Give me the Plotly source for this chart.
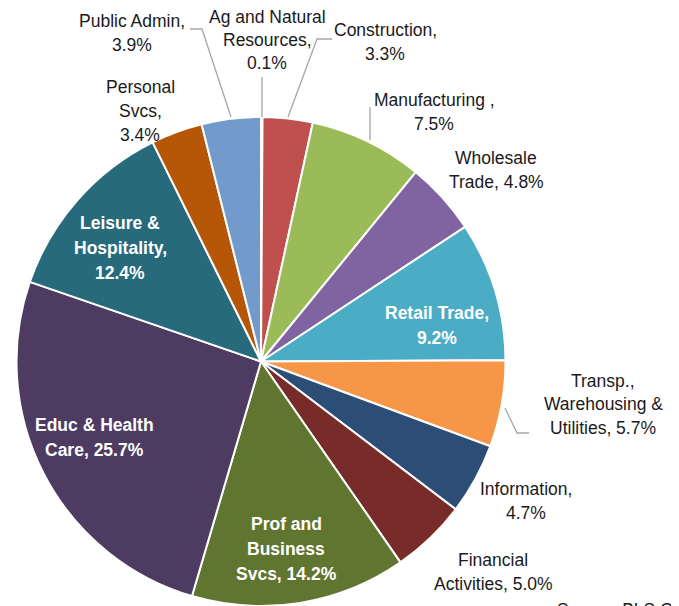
import plotly.graph_objects as go

# the page body keeps its default 8px margin, so the figure is 8px smaller
# and every pixel position below is given in window pixels
OFF = 8
W, H = 679 - OFF, 606 - OFF

# Share of employment by sector, clockwise from 12 o'clock
sectors = ["Ag and Natural Resources", "Construction", "Manufacturing", "Wholesale Trade",
           "Retail Trade", "Transp., Warehousing & Utilities", "Information",
           "Financial Activities", "Prof and Business Svcs", "Educ & Health Care",
           "Leisure & Hospitality", "Personal Svcs", "Public Admin"]
shares = [0.1, 3.3, 7.5, 4.8, 9.2, 5.7, 4.7, 5.0, 14.2, 25.7, 12.4, 3.4, 3.9]

colors = ["#4F81BD", "#C0504D", "#9BBB59", "#8064A2", "#4BACC6", "#F79646", "#2C4D75",
          "#772C2A", "#5F7530", "#4D3B62", "#276A7C", "#B65708", "#729ACA"]

# label lines as shown on the chart, "{}" gets the percentage
label_lines = [
    ["Ag and Natural", "Resources,", "{}"],
    ["Construction,", "{}"],
    ["Manufacturing ,", "{}"],
    ["Wholesale", "Trade, {}"],
    ["Retail Trade,", "{}"],
    ["Transp.,", "Warehousing &", "Utilities, {}"],
    ["Information,", "{}"],
    ["Financial", "Activities, {}"],
    ["Prof and", "Business", "Svcs, {}"],
    ["Educ & Health", "Care, {}"],
    ["Leisure &", "Hospitality,", "{}"],
    ["Personal", "Svcs,", "{}"],
    ["Public Admin,", "{}"],
]
inside = ["Retail Trade", "Prof and Business Svcs", "Educ & Health Care", "Leisure & Hospitality"]

# label block centres in window pixels
label_pos = [(267, 40), (385, 42), (434, 112), (496, 170), (437, 325), (603, 404),
             (526, 501), (493, 572), (286, 549), (94, 437), (120, 248), (140, 111), (132, 33)]

# leader lines in window pixels
leaders = [
    [(262, 77), (262, 117)],
    [(332, 39), (317, 39), (288, 117)],
    [(370, 107), (370, 140)],
    [(505, 408), (517, 433), (529, 433)],
    [(190, 29), (202, 29), (231, 117)],
]

FONT = "Liberation Sans Narrow, Arial Narrow, Liberation Sans, Arial, sans-serif"


def px(x):
    return (x - OFF) / W


def py(y):
    return 1 - (y - OFF) / H


fig = go.Figure(go.Pie(
    labels=sectors, values=shares, sort=False, direction="clockwise", rotation=0,
    marker=dict(colors=colors, line=dict(color="white", width=2)),
    textinfo="none", showlegend=False,
    domain=dict(x=[px(15), px(507)], y=[0, py(117)]),
))

for name, val, lines, (cx, cy) in zip(sectors, shares, label_lines, label_pos):
    is_in = name in inside
    step = 25 if is_in else 23.5
    y0 = cy - step * (len(lines) - 1) / 2
    for i, ln in enumerate(lines):
        txt = ln.format(f"{val:.1f}%")
        if is_in:
            txt = "<b>" + txt + "</b>"
        fig.add_annotation(x=px(cx), y=py(y0 + i * step), xref="paper", yref="paper",
                           text=txt, showarrow=False, xanchor="center", yanchor="middle",
                           font=dict(family=FONT, size=17.5, color="white" if is_in else "#1a1a1a"))

for pts in leaders:
    path = "M " + " L ".join(f"{px(x)},{py(y)}" for x, y in pts)
    fig.add_shape(type="path", path=path, xref="paper", yref="paper",
                  line=dict(color="#A6A6A6", width=1.3))

fig.add_annotation(x=px(555), y=py(598), xref="paper", yref="paper", text="Source: BLS QCEW",
                   showarrow=False, xanchor="left", yanchor="top",
                   font=dict(family=FONT, size=17.5, color="#1a1a1a"))

fig.update_layout(width=W, height=H, margin=dict(l=0, r=0, t=0, b=0),
                  paper_bgcolor="white", plot_bgcolor="white")

fig.write_html("out.html")
